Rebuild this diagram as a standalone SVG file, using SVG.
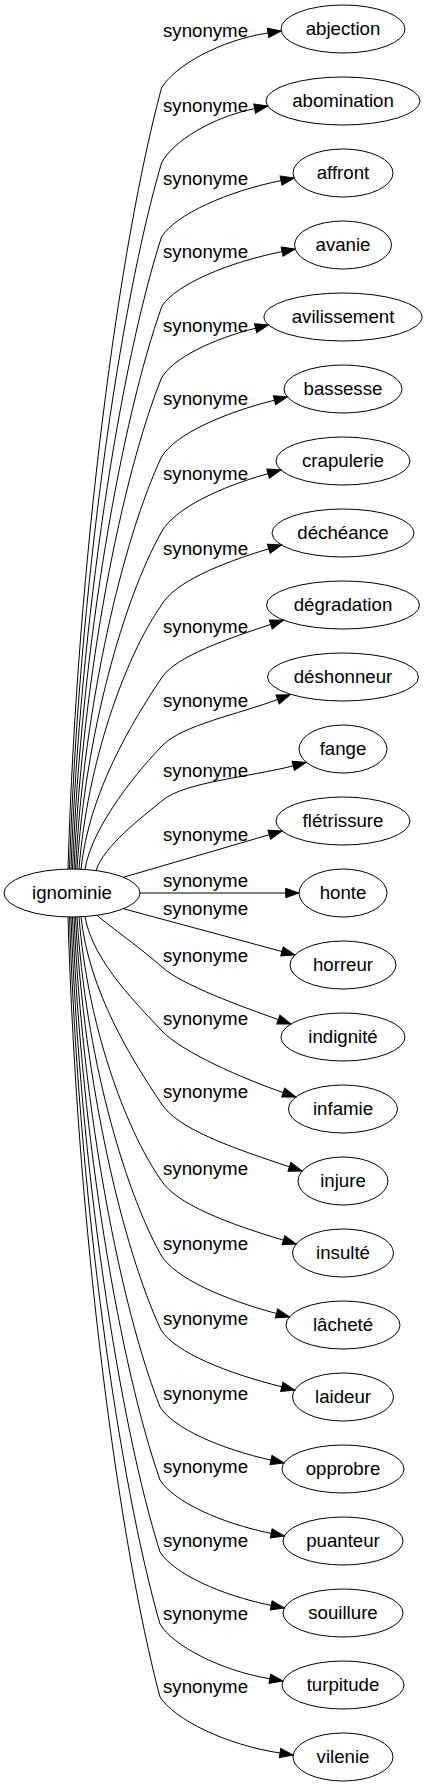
<svg xmlns="http://www.w3.org/2000/svg" width="427" height="1787" viewBox="0 0 427 1787">
<style>
.node ellipse{fill:none;stroke:#000;stroke-width:1}
text{font-family:"Liberation Sans",Arial,sans-serif;font-size:18.67px;fill:#000;text-anchor:middle}
.edge path{fill:none;stroke:#000;stroke-width:1;marker-end:url(#arr)}
</style>
<defs>
<marker id="arr" markerUnits="userSpaceOnUse" markerWidth="16" markerHeight="12" viewBox="0 -6 16 12" refX="0" refY="0" orient="auto" overflow="visible">
<path d="M0,-4.67 L13.3,0 L0,4.67 Z" fill="#000" stroke="#000" stroke-width="1"/>
</marker>
</defs>
<rect width="427" height="1787" fill="#fff"/>
<g id="connectors">
<g class="edge" id="e0"><path d="M68,869.04 C77.35,556.6 119.4,244.2 161.5,88 C174.3,66 220.1,40.2 268.05,32.97"/><text x="205.5" y="36.5">synonyme</text></g>
<g class="edge" id="e1"><path d="M69.5,869.02 C78.7,586.6 120.1,304.2 161.5,163 C172.7,141.2 212.7,117 254.65,108.61"/><text x="205.5" y="111.5">synonyme</text></g>
<g class="edge" id="e2"><path d="M71,869 C80.05,616.2 120.8,363.4 161.5,237 C175.8,214.4 227.25,191.4 281.05,180.6"/><text x="205.5" y="184.5">synonyme</text></g>
<g class="edge" id="e3"><path d="M72.5,869 C81.45,643.8 121.7,418.6 162,306 C176.4,284.2 228.1,262.4 282.15,251.6"/><text x="205.5" y="257.5">synonyme</text></g>
<g class="edge" id="e4"><path d="M74,869.01 C82.75,672.6 122.1,476.2 161.5,378 C172.8,358.1 213.25,338.8 255.6,328.2"/><text x="205.5" y="331.5">synonyme</text></g>
<g class="edge" id="e5"><path d="M75.5,869.03 C84.1,704.2 122.8,539.4 161.5,457 C175.1,434.3 223.65,412.9 274.5,400.2"/><text x="205.5" y="404.5">synonyme</text></g>
<g class="edge" id="e6"><path d="M77,869.06 C85.45,734.3 123.5,599.5 161.5,532 C174.3,508.6 220.1,487 268.1,473.6"/><text x="205.5" y="479.5">synonyme</text></g>
<g class="edge" id="e7"><path d="M79,869.13 C87.25,763.5 124.4,657.9 161.5,605 C174.4,582.5 220.5,563.3 268.8,548.8"/><text x="205.5" y="554.5">synonyme</text></g>
<g class="edge" id="e8"><path d="M81,869.2 C89.05,792.7 132,722 161.5,678 C174.6,656.6 230,638 270.75,624.4"/><text x="205.5" y="632.5">synonyme</text></g>
<g class="edge" id="e9"><path d="M85,869.44 C92,825 141.8,766.2 163,745 C183,725 237.6,714.5 277.6,699.45"/><text x="205.5" y="706.5">synonyme</text></g>
<g class="edge" id="e10"><path d="M96,870.5 C104,846 141.3,817.7 163,800 C185,782 250,777 293.26,765.8"/><text x="205.5" y="776.5">synonyme</text></g>
<g class="edge" id="e11"><path d="M123.3,877.3 L269.3,834.7"/><text x="205.5" y="840.5">synonyme</text></g>
<g class="edge" id="e12"><path d="M140,893 L285.7,893"/><text x="205.5" y="886.5">synonyme</text></g>
<g class="edge" id="e13"><path d="M123.3,908.7 L281.96,951.5"/><text x="205.5" y="914.5">synonyme</text></g>
<g class="edge" id="e14"><path d="M97,915.32 C108,925 143.4,950.3 162,967 C182,985 240,1006 278.35,1019.6"/><text x="205.5" y="961.5">synonyme</text></g>
<g class="edge" id="e15"><path d="M85,916.56 C92.6,961.9 140.8,1007.8 161,1030 C181,1052 244,1079 283.25,1092.6"/><text x="205.5" y="1024.5">synonyme</text></g>
<g class="edge" id="e16"><path d="M81,916.79 C89,991.3 132,1060 161,1103 C176.4,1128.5 231.7,1147.7 289.46,1166.8"/><text x="205.5" y="1097.5">synonyme</text></g>
<g class="edge" id="e17"><path d="M79,916.87 C87.2,1022.1 124.1,1127.4 161,1180 C175.7,1204.1 228.4,1223.7 283.46,1240.2"/><text x="205.5" y="1174.5">synonyme</text></g>
<g class="edge" id="e18"><path d="M77,916.94 C85.4,1052.2 123.2,1187.4 161,1255 C174.9,1278.4 224.5,1299.5 276.46,1313.5"/><text x="205.5" y="1249.5">synonyme</text></g>
<g class="edge" id="e19"><path d="M75.5,916.97 C84.05,1082.2 122.5,1247.4 161,1330 C175.5,1352.7 227.4,1373.2 281.8,1386.8"/><text x="205.5" y="1324.5">synonyme</text></g>
<g class="edge" id="e20"><path d="M74,916.99 C82.6,1113 121.3,1309 160,1407 C173.3,1428.2 221.05,1449.1 271,1460.1"/><text x="205.5" y="1399.5">synonyme</text></g>
<g class="edge" id="e21"><path d="M72.5,917 C81.25,1142.2 120.6,1367.4 160,1480 C173.35,1501.4 221.2,1523.4 271.25,1533.4"/><text x="205.5" y="1472.5">synonyme</text></g>
<g class="edge" id="e22"><path d="M71,917 C79.9,1171 119.95,1425 160,1552 C173.35,1573.4 221.2,1595.4 271.25,1605.4"/><text x="205.5" y="1546.5">synonyme</text></g>
<g class="edge" id="e23"><path d="M69.5,916.98 C78.55,1199.8 119.3,1482.6 160,1624 C173.2,1645.9 220.4,1670.4 269.79,1678.8"/><text x="205.5" y="1619.5">synonyme</text></g>
<g class="edge" id="e24"><path d="M68,916.96 C77.2,1229 118.6,1541 160,1697 C174.4,1719.4 226,1744.9 280.05,1753"/><text x="205.5" y="1692.5">synonyme</text></g>
</g>
<g class="node" id="n-ignominie"><ellipse cx="72" cy="893" rx="68" ry="24"/><text x="72" y="899">ignominie</text></g>
<g class="node" id="n-abjection"><ellipse cx="343" cy="29" rx="62" ry="24"/><text x="343" y="35">abjection</text></g>
<g class="node" id="n-abomination"><ellipse cx="343" cy="101" rx="77" ry="24"/><text x="343" y="107">abomination</text></g>
<g class="node" id="n-affront"><ellipse cx="343" cy="173" rx="50" ry="24"/><text x="343" y="179">affront</text></g>
<g class="node" id="n-avanie"><ellipse cx="343" cy="245" rx="48.5" ry="24"/><text x="343" y="251">avanie</text></g>
<g class="node" id="n-avilissement"><ellipse cx="343" cy="317" rx="79" ry="24"/><text x="343" y="323">avilissement</text></g>
<g class="node" id="n-bassesse"><ellipse cx="343" cy="389" rx="59" ry="24"/><text x="343" y="395">bassesse</text></g>
<g class="node" id="n-crapulerie"><ellipse cx="343" cy="461" rx="67" ry="24"/><text x="343" y="467">crapulerie</text></g>
<g class="node" id="n-decheance"><ellipse cx="343" cy="533" rx="71" ry="24"/><text x="343" y="539">déchéance</text></g>
<g class="node" id="n-degradation"><ellipse cx="343" cy="605" rx="76.5" ry="24"/><text x="343" y="611">dégradation</text></g>
<g class="node" id="n-deshonneur"><ellipse cx="343" cy="677" rx="75.5" ry="24"/><text x="343" y="683">déshonneur</text></g>
<g class="node" id="n-fange"><ellipse cx="343" cy="749" rx="44" ry="24"/><text x="343" y="755">fange</text></g>
<g class="node" id="n-fletrissure"><ellipse cx="343" cy="821" rx="67" ry="24"/><text x="343" y="827">flétrissure</text></g>
<g class="node" id="n-honte"><ellipse cx="343" cy="893" rx="44" ry="24"/><text x="343" y="899">honte</text></g>
<g class="node" id="n-horreur"><ellipse cx="343" cy="965" rx="53" ry="24"/><text x="343" y="971">horreur</text></g>
<g class="node" id="n-indignite"><ellipse cx="343" cy="1037" rx="62" ry="24"/><text x="343" y="1043">indignité</text></g>
<g class="node" id="n-infamie"><ellipse cx="343" cy="1109" rx="54.5" ry="24"/><text x="343" y="1115">infamie</text></g>
<g class="node" id="n-injure"><ellipse cx="343" cy="1181" rx="45" ry="24"/><text x="343" y="1187">injure</text></g>
<g class="node" id="n-insulte"><ellipse cx="343" cy="1253" rx="50.5" ry="24"/><text x="343" y="1259">insulté</text></g>
<g class="node" id="n-lachete"><ellipse cx="343" cy="1325" rx="57" ry="24"/><text x="343" y="1331">lâcheté</text></g>
<g class="node" id="n-laideur"><ellipse cx="343" cy="1397" rx="50.5" ry="24"/><text x="343" y="1403">laideur</text></g>
<g class="node" id="n-opprobre"><ellipse cx="343" cy="1469" rx="61" ry="24"/><text x="343" y="1475">opprobre</text></g>
<g class="node" id="n-puanteur"><ellipse cx="343" cy="1541" rx="60" ry="24"/><text x="343" y="1547">puanteur</text></g>
<g class="node" id="n-souillure"><ellipse cx="343" cy="1613" rx="60" ry="24"/><text x="343" y="1619">souillure</text></g>
<g class="node" id="n-turpitude"><ellipse cx="343" cy="1685" rx="61" ry="24"/><text x="343" y="1691">turpitude</text></g>
<g class="node" id="n-vilenie"><ellipse cx="343" cy="1757" rx="50" ry="24"/><text x="343" y="1763">vilenie</text></g>
</svg>
